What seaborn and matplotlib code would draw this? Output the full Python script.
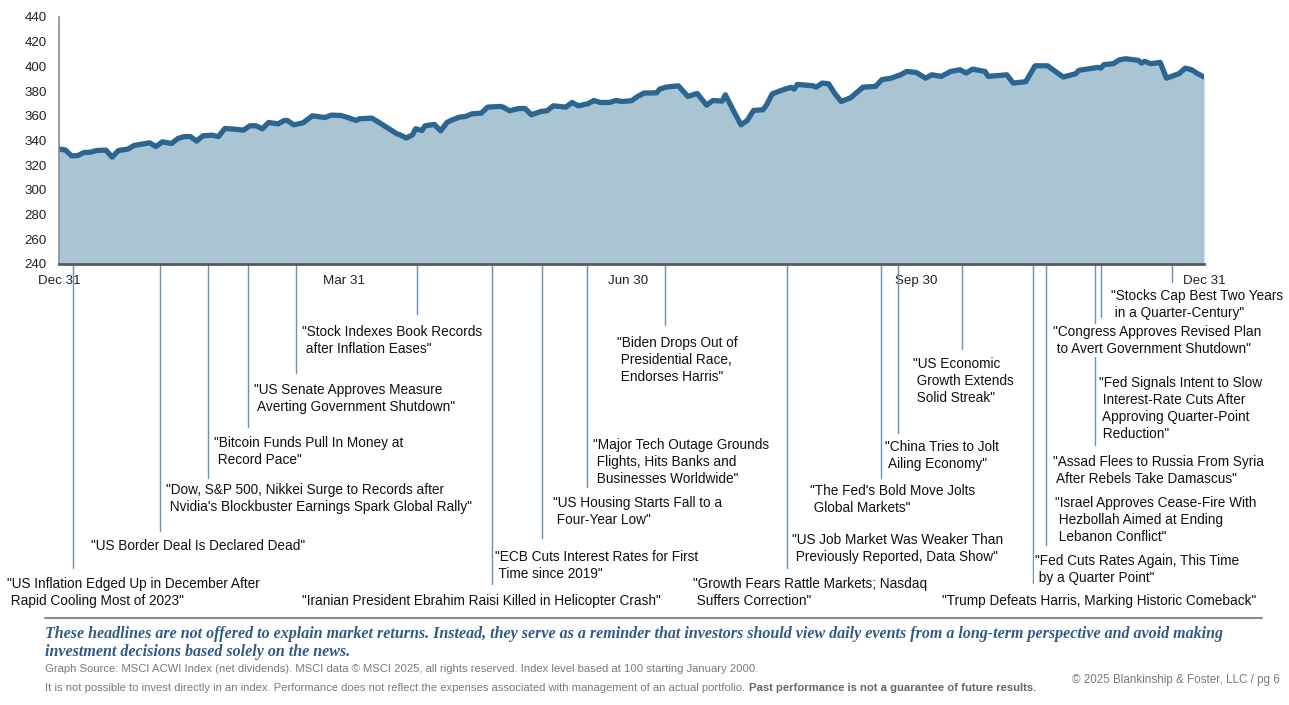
import pandas as pd
import matplotlib
matplotlib.use("Agg")
import matplotlib.pyplot as plt
import matplotlib.dates as mdates
import matplotlib.transforms as mtransforms
import seaborn as sns

# ============================================
# MSCI ACWI 2024 - HEADLINES CHART
# ============================================

sns.set_style("white")
plt.rcParams['font.family'] = ['Liberation Sans', 'DejaVu Sans']

# ----------------------------------------
# DATA
# ----------------------------------------
start = pd.Timestamp("2023-12-31")

day_offsets = [0, 2, 4, 6, 8, 10, 12, 15, 17, 19, 22, 24, 29, 31, 33, 36, 38, 40, 42, 44,
               46, 49, 51, 53, 56, 59, 61, 63, 65, 67, 70, 72, 73, 75, 78, 81, 85, 87, 90, 92,
               95, 96, 100, 102, 104, 106, 108, 109, 111, 113, 114, 116, 117, 120, 122, 124, 126, 128, 130, 132,
               135, 137, 141, 142, 144, 147, 149, 151, 154, 156, 158, 162, 164, 166, 169, 171, 173, 176, 178, 180,
               183, 185, 187, 191, 192, 194, 198, 201, 204, 207, 209, 212, 213, 216, 218, 220, 222, 225, 226, 228,
               232, 234, 235, 236, 241, 242, 244, 246, 248, 250, 253, 257, 261, 263, 266, 269, 271, 274, 277, 279,
               282, 285, 288, 290, 292, 296, 297, 303, 305, 309, 312, 316, 318, 321, 325, 326, 332, 333, 334, 337,
               339, 341, 345, 346, 347, 349, 352, 354, 358, 360, 362, 364, 366]

index_level = [333.0, 332.4, 327.6, 327.8, 330.3, 330.5, 331.9, 332.2, 326.5, 331.9, 333.0, 336.0, 338.1, 335.1, 338.9, 337.6, 341.6, 343.2, 343.2, 339.5,
               343.8, 344.3, 343.2, 349.7, 349.2, 348.4, 351.9, 351.9, 349.5, 354.6, 353.5, 356.2, 356.2, 352.7, 354.3, 360.0, 358.6, 360.5, 360.3, 358.9,
               356.2, 357.6, 358.1, 355.1, 351.9, 348.6, 345.4, 344.6, 342.0, 344.6, 349.5, 348.1, 351.9, 353.0, 347.8, 354.6, 357.0, 358.9, 359.5, 361.6,
               362.2, 367.0, 367.6, 367.0, 364.1, 365.9, 365.9, 360.8, 363.5, 364.1, 368.1, 367.0, 370.8, 368.1, 369.7, 372.4, 370.8, 370.8, 372.4, 371.6,
               372.2, 375.7, 378.4, 378.6, 381.6, 383.2, 384.3, 375.7, 378.1, 368.6, 372.4, 371.9, 377.0, 362.2, 352.7, 356.2, 364.3, 364.9, 368.1, 377.8,
               381.6, 383.0, 381.6, 385.4, 384.3, 383.2, 386.5, 385.9, 378.0, 371.6, 374.5, 383.2, 383.8, 389.2, 390.5, 393.2, 395.9, 395.1, 390.5, 393.2,
               391.9, 395.9, 397.3, 394.6, 397.8, 395.9, 391.9, 393.2, 386.5, 387.6, 400.5, 400.5, 396.8, 391.4, 394.1, 396.8, 399.2, 398.6, 401.4, 402.2,
               405.4, 406.2, 404.9, 402.7, 404.1, 402.2, 403.2, 390.5, 394.1, 398.6, 397.3, 394.1, 391.4]

tick_days = [0, 91, 182, 274, 366]
tick_labels = ["Dec 31", "Mar 31", "Jun 30", "Sep 30", "Dec 31"]

# days where the headline marker lines sit
event_days = [4.5, 32.3, 47.6, 60.4, 75.8, 114.5, 138.4, 154.4, 168.8, 193.7,
              232.7, 262.8, 268.2, 288.7, 311.4, 315.5, 331.2, 333.1, 355.8]

headlines = [
    '"US Inflation Edged Up in December After\n Rapid Cooling Most of 2023"',
    '"US Border Deal Is Declared Dead"',
    '"Dow, S&P 500, Nikkei Surge to Records after\n Nvidia\'s Blockbuster Earnings Spark Global Rally"',
    '"Bitcoin Funds Pull In Money at\n Record Pace"',
    '"US Senate Approves Measure\n Averting Government Shutdown"',
    '"Stock Indexes Book Records\n after Inflation Eases"',
    '"Iranian President Ebrahim Raisi Killed in Helicopter Crash"',
    '"ECB Cuts Interest Rates for First\n Time since 2019"',
    '"US Housing Starts Fall to a\n Four-Year Low"',
    '"Major Tech Outage Grounds\n Flights, Hits Banks and\n Businesses Worldwide"',
    '"Biden Drops Out of\n Presidential Race,\n Endorses Harris"',
    '"Growth Fears Rattle Markets; Nasdaq\n Suffers Correction"',
    '"US Job Market Was Weaker Than\n Previously Reported, Data Show"',
    '"The Fed\'s Bold Move Jolts\n Global Markets"',
    '"China Tries to Jolt\n Ailing Economy"',
    '"US Economic\n Growth Extends\n Solid Streak"',
    '"Trump Defeats Harris, Marking Historic Comeback"',
    '"Fed Cuts Rates Again, This Time\n by a Quarter Point"',
    '"Israel Approves Cease-Fire With\n Hezbollah Aimed at Ending\n Lebanon Conflict"',
    '"Assad Flees to Russia From Syria\n After Rebels Take Damascus"',
    '"Fed Signals Intent to Slow\n Interest-Rate Cuts After\n Approving Quarter-Point\n Reduction"',
    '"Congress Approves Revised Plan\n to Avert Government Shutdown"',
    '"Stocks Cap Best Two Years\n in a Quarter-Century"',
]

# ----------------------------------------
# LAYOUT (pixels of the 1289x705 canvas)
# ----------------------------------------
W, H = 1289, 705
line_ends = [568, 531, 478, 427, 373, 314, 584, 538, 487, 325,
             568, 478, 433, 349, 583, 545, 445, 317, 282]
# left edge, centre of first text line
text_pos = [(7, 584), (91, 546), (166, 490), (214, 443), (254, 390), (302, 332),
            (302, 601), (495, 557), (553, 503), (593, 445), (617, 343), (693, 584),
            (792, 540), (810, 491), (885, 447), (913, 364), (942, 601), (1035, 561),
            (1055, 503), (1053, 462), (1099, 383), (1053, 332), (1111, 296)]

FILL = '#a9c4d3'
LINE = '#2b6592'
MARK = '#6a92b6'

fig = plt.figure(figsize=(W / 100, H / 100), dpi=100)
ax = fig.add_axes([59 / W, 1 - 264 / H, (1204 - 59) / W, (264 - 17) / H])

df = pd.DataFrame({'date': start + pd.to_timedelta(day_offsets, unit='D'),
                   'level': index_level})

ax.fill_between(df['date'], df['level'], 240, color=FILL, linewidth=0)
sns.lineplot(data=df, x='date', y='level', ax=ax, color=LINE, linewidth=3.8,
             solid_joinstyle='round', solid_capstyle='round')

ax.set_xlim(start, start + pd.Timedelta(days=366))
ax.set_ylim(240, 440)
ax.set_yticks(range(240, 441, 20))
ax.set_xticks(start + pd.to_timedelta(tick_days, unit='D'))
ax.set_xticklabels(tick_labels)
ax.set_xlabel("")
ax.set_ylabel("")
ax.tick_params(axis='y', length=0, pad=9, labelsize=9.6, labelcolor='#222222')
ax.tick_params(axis='x', length=0, pad=8, labelsize=9.6, labelcolor='#222222')

for side in ['top', 'right']:
    ax.spines[side].set_visible(False)
ax.spines['left'].set_color('#8a8a8a')
ax.spines['left'].set_linewidth(1.2)
ax.spines['bottom'].set_color('#5a5a5a')
ax.spines['bottom'].set_linewidth(2)

# ----------------------------------------
# HEADLINE MARKERS
# ----------------------------------------
trans = mtransforms.blended_transform_factory(ax.transData, fig.transFigure)
for d, yend in zip(event_days, line_ends):
    xd = mdates.date2num(start + pd.Timedelta(days=d))
    ax.plot([xd, xd], [1 - 265 / H, 1 - yend / H], transform=trans, color=MARK,
            linewidth=1.0, clip_on=False, scalex=False, scaley=False, zorder=1)

for txt, (px, py) in zip(headlines, text_pos):
    fig.text(px / W, 1 - (py - 7) / H, txt, ha='left', va='top', fontsize=9.8,
             linespacing=1.28, color='#111111', zorder=5,
             bbox=dict(facecolor='white', edgecolor='none', pad=0.6))

# ----------------------------------------
# FOOTER
# ----------------------------------------
fig.add_artist(plt.Line2D([45 / W, 1262 / W], [1 - 618 / H, 1 - 618 / H],
                          color='#8c8c8c', linewidth=1.5, transform=fig.transFigure))

fig.text(45 / W, 1 - 626 / H,
         "These headlines are not offered to explain market returns. Instead, they serve as a reminder "
         "that investors should view daily events from a long-term perspective and avoid making\n"
         "investment decisions based solely on the news.",
         family=['Liberation Serif', 'DejaVu Serif'], style='italic', weight='bold',
         fontsize=11.5, color='#2f5a85', va='top', ha='left', linespacing=1.15)

fig.text(45 / W, 1 - 672 / H,
         "Graph Source: MSCI ACWI Index (net dividends). MSCI data \u00a9 MSCI 2025, all rights reserved. "
         "Index level based at 100 starting January 2000.",
         fontsize=8.1, color='#7a7a7a', va='baseline', ha='left')

t_norm = fig.text(45 / W, 1 - 691 / H,
                  "It is not possible to invest directly in an index. Performance does not reflect the "
                  "expenses associated with management of an actual portfolio.",
                  fontsize=8.1, color='#7a7a7a', va='baseline', ha='left')
renderer = fig.canvas.get_renderer()
bb = t_norm.get_window_extent(renderer)
fig.text((bb.x1 + 4) / W, 1 - 691 / H, "Past performance is not a guarantee of future results.",
         fontsize=8.1, color='#666666', weight='bold', va='baseline', ha='left')

fig.text(1280 / W, 1 - 683 / H, "\u00a9 2025 Blankinship & Foster, LLC / pg 6",
         fontsize=8.4, color='#7a7a7a', va='baseline', ha='right')

plt.savefig("out.png", dpi=100)
